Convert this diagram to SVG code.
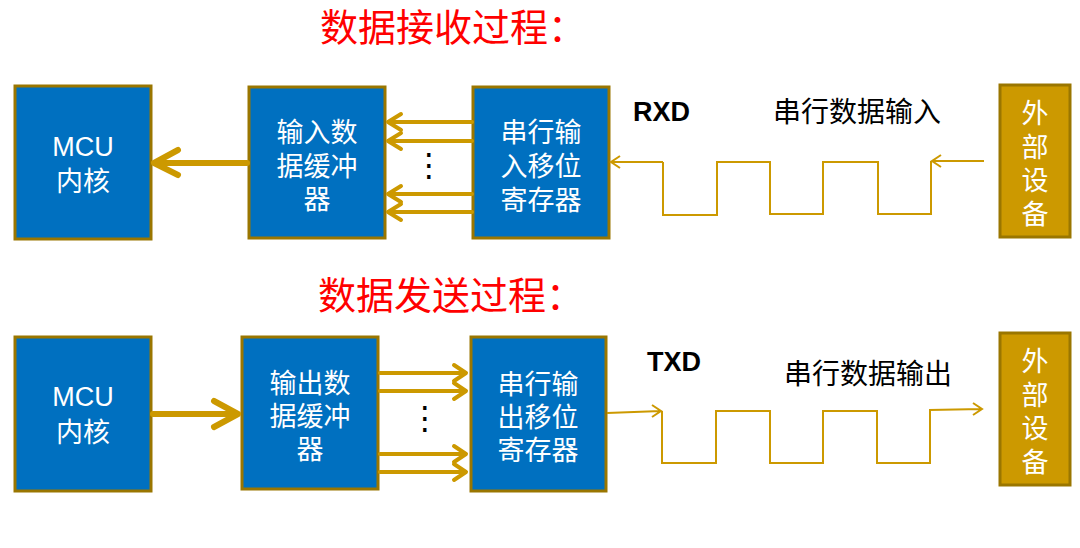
<svg xmlns="http://www.w3.org/2000/svg" width="1080" height="548" viewBox="0 0 1080 548">
<style>
.blue{fill:#0070C0;stroke:#9A7600;stroke-width:3}
.gold{fill:#CC9900;stroke:#9A7600;stroke-width:3}
.wt{font-family:"Noto Sans CJK SC","Liberation Sans",sans-serif;font-size:27px;fill:#fff;text-anchor:middle}
.mcu{font-family:"Liberation Sans","Noto Sans CJK SC",sans-serif;font-size:27px;fill:#fff;text-anchor:middle}
.title{font-family:"Noto Sans CJK SC",sans-serif;font-size:38px;fill:#FF0000}
.lbl{font-family:"Liberation Sans",sans-serif;font-weight:bold;font-size:27px;fill:#000}
.cn{font-family:"Noto Sans CJK SC",sans-serif;font-size:28px;fill:#000}
.big{fill:none;stroke:#CC9900;stroke-width:6;stroke-linecap:round;stroke-linejoin:round}
.bus{fill:none;stroke:#CC9900;stroke-width:4;stroke-linecap:round;stroke-linejoin:round}
.wave{fill:none;stroke:#CC9900;stroke-width:2}
.dots{font-family:"DejaVu Sans",sans-serif;font-size:32px;fill:#000;text-anchor:middle}
</style>

<text class="title" x="320" y="41">数据接收过程：</text>
<text class="title" x="318" y="309">数据发送过程：</text>

<g id="mcu1"><rect class="blue" x="15" y="86" width="136" height="153"/>
<text class="mcu" x="83" y="156">MCU</text><text class="mcu" x="83" y="191">内核</text></g>
<g id="inbuf"><rect class="blue" x="249" y="87" width="136" height="151"/>
<text class="wt" x="317" y="142">输入数</text><text class="wt" x="317" y="176">据缓冲</text><text class="wt" x="317" y="209">器</text></g>
<g id="inshift"><rect class="blue" x="473" y="87" width="136" height="151"/>
<text class="wt" x="541" y="142">串行输</text><text class="wt" x="541" y="176">入移位</text><text class="wt" x="541" y="210">寄存器</text></g>
<g id="ext1"><rect class="gold" x="1000" y="85" width="70" height="152"/>
<text class="wt" x="1035" y="123">外</text><text class="wt" x="1035" y="157">部</text><text class="wt" x="1035" y="190">设</text><text class="wt" x="1035" y="224">备</text></g>

<g id="mcu2"><rect class="blue" x="15" y="337" width="136" height="154"/>
<text class="mcu" x="83" y="406">MCU</text><text class="mcu" x="83" y="442">内核</text></g>
<g id="outbuf"><rect class="blue" x="242" y="337" width="136" height="152"/>
<text class="wt" x="310" y="393">输出数</text><text class="wt" x="310" y="426">据缓冲</text><text class="wt" x="310" y="459">器</text></g>
<g id="outshift"><rect class="blue" x="471" y="337" width="135" height="154"/>
<text class="wt" x="538" y="394">串行输</text><text class="wt" x="538" y="427">出移位</text><text class="wt" x="538" y="460">寄存器</text></g>
<g id="ext2"><rect class="gold" x="1000" y="333" width="70" height="152"/>
<text class="wt" x="1035" y="371">外</text><text class="wt" x="1035" y="405">部</text><text class="wt" x="1035" y="438">设</text><text class="wt" x="1035" y="472">备</text></g>

<g id="labels">
<text class="lbl" x="633" y="121">RXD</text>
<text class="cn" x="773" y="122">串行数据输入</text>
<text class="lbl" x="647" y="371">TXD</text>
<text class="cn" x="784" y="384">串行数据输出</text>
<text class="dots" x="429" y="176">⋮</text>
<text class="dots" x="425" y="429">⋮</text>
</g>

<g id="connectors">
<path class="big" d="M247 163H155M178 150L154 163L178 175"/>
<path class="bus" d="M472 122H388M401 114L388 122L401 130"/>
<path class="bus" d="M472 141H388M401 133L388 141L401 149"/>
<path class="bus" d="M472 194H388M401 186L388 194L401 202"/>
<path class="bus" d="M472 212H388M401 204L388 212L401 220"/>
<path class="wave" d="M663 162H611M620 156L611 162L620 168"/>
<path class="wave" d="M663 162V215H717V162H770V214H823V162H878V214H931V161"/>
<path class="wave" d="M984 161H932M941 155L932 161L941 167"/>

<path class="big" d="M153 414H238M214 401L238 414L214 427"/>
<path class="bus" d="M380 373H466M454 365L466 373L454 381"/>
<path class="bus" d="M380 391H466M454 383L466 391L454 399"/>
<path class="bus" d="M380 454H466M454 446L466 454L454 462"/>
<path class="bus" d="M380 472H466M454 464L466 472L454 480"/>
<path class="wave" d="M607 413L661 411M652 405L661 411L652 417"/>
<path class="wave" d="M662 411V463H716V411H770V463H823V411H877V463H930V410"/>
<path class="wave" d="M929 410L982 409M973 403L982 409L973 415"/>
</g>
</svg>
